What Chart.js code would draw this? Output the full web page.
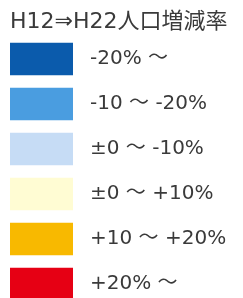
<!DOCTYPE html>
<html lang="ja">
<head>
<meta charset="UTF-8">
<title>H12⇒H22人口増減率</title>
<script src="https://cdn.jsdelivr.net/npm/chart.js"></script>
<style>
  html, body { margin: 0; padding: 0; background: #fff; overflow: hidden; }
  canvas { display: block; }
</style>
</head>
<body>
<!-- canvas is a bit taller than the window: the last swatch runs off the bottom edge -->
<canvas id="legendChart" width="243" height="307"></canvas>
<script>
// legend classes, top to bottom
const titleText = 'H12⇒H22人口増減率';
const classLabels = ['-20% ～', '-10 ～ -20%', '±0 ～ -10%', '±0 ～ +10%', '+10 ～ +20%', '+20% ～'];
const classColors = ['#0B5BAC', '#4A9DE0', '#C6DCF5', '#FFFCD3', '#F8B900', '#E60014'];
const swatchLength = [1, 1, 1, 1, 1, 1]; // every swatch is the same length

const textColor = '#3a3a3a';
const fontFamily = '"DejaVu Sans", "Noto Sans CJK JP", sans-serif';

new Chart(document.getElementById('legendChart'), {
  type: 'bar',
  data: {
    labels: classLabels,
    datasets: [{
      data: swatchLength,
      backgroundColor: classColors,
      borderWidth: 0,
      barThickness: 32
    }]
  },
  options: {
    indexAxis: 'y',
    responsive: false,
    animation: false,
    layout: { padding: { left: 10, right: 0, top: 0, bottom: 0.5 } },
    plugins: {
      legend: { display: false },
      tooltip: { enabled: false },
      title: {
        display: true,
        text: titleText,
        align: 'start',
        color: textColor,
        font: { family: fontFamily, size: 22, weight: 'normal' },
        padding: { top: 9.3, bottom: 0.8 }
      }
    },
    scales: {
      x: { display: false, min: 0, max: 1 },
      y: {
        position: 'right',
        grid: { display: false, drawTicks: false },
        border: { display: false },
        ticks: {
          color: textColor,
          padding: 17,
          font: { family: fontFamily, size: 20 }
        },
        afterFit(scale) {
          // fixed width for the label column, no extra padding above/below
          scale.width = 170;
          scale.paddingTop = 0;
          scale.paddingBottom = 0;
        }
      }
    }
  }
});
</script>
</body>
</html>
